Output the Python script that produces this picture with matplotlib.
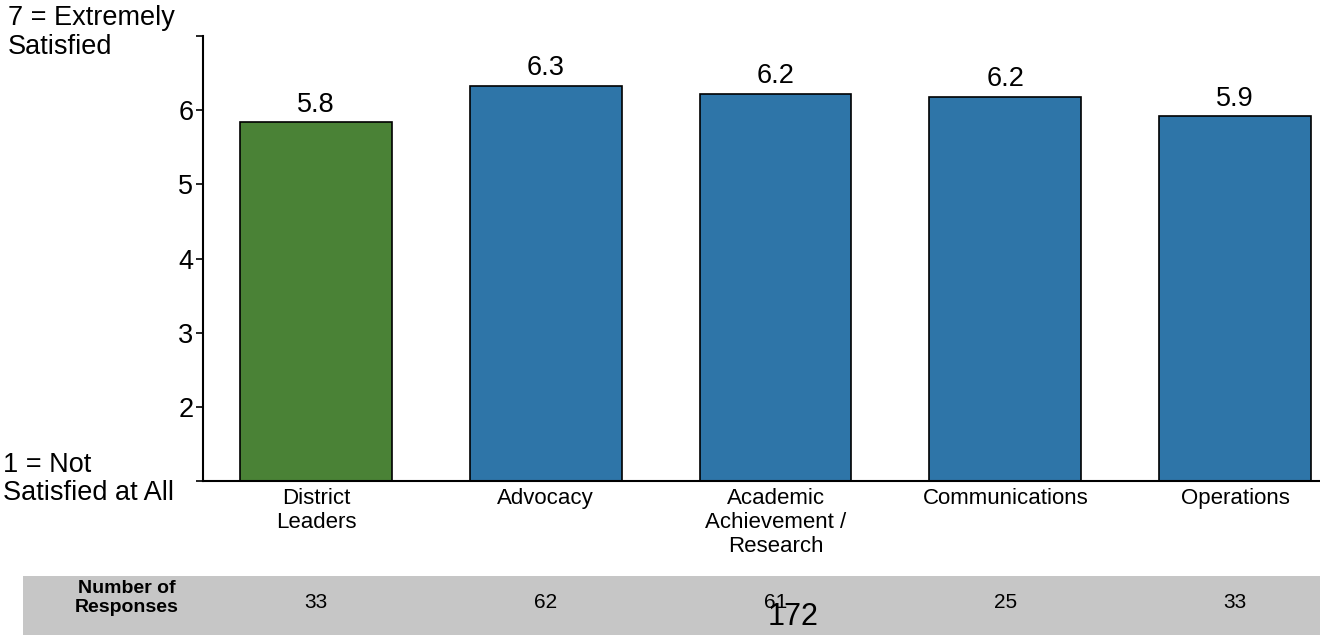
import matplotlib
matplotlib.use("Agg")
import matplotlib.pyplot as plt
from matplotlib.patches import Rectangle
from matplotlib.transforms import blended_transform_factory

plt.rcParams['font.family'] = ['Liberation Sans', 'DejaVu Sans']

categories = ['District\nLeaders', 'Advocacy', 'Academic\nAchievement /\nResearch',
              'Communications', 'Operations']
scores = [5.84, 6.33, 6.22, 6.18, 5.92]
responses = [33, 62, 61, 25, 33]
bar_colors = ['#4a8236', '#2e75a8', '#2e75a8', '#2e75a8', '#2e75a8']
page_number = '172'

fig = plt.figure(figsize=(13.2, 6.35), dpi=100)
ax = fig.add_axes([0.1538, 0.2425, 0.8462, 0.7008])

x = list(range(len(categories)))
ax.bar(x, [s - 1 for s in scores], bottom=1, width=0.66, color=bar_colors,
       edgecolor='black', linewidth=1.2, zorder=2)

for xi, s in zip(x, scores):
    ax.text(xi, s + 0.06, f'{s:.1f}', ha='center', va='bottom', fontsize=19.5)

ax.set_xlim(-0.492, 4.37)
ax.set_ylim(1, 7)
ax.set_yticks([1, 2, 3, 4, 5, 6, 7])
ax.set_yticklabels(['', '2', '3', '4', '5', '6', ''], fontsize=19.5)
ax.set_xticks(x)
ax.set_xticklabels(categories, fontsize=16, va='top', linespacing=1.2)
ax.tick_params(axis='x', length=0, pad=5)
ax.tick_params(axis='y', length=5, width=1.2, pad=2)

for side in ['top', 'right']:
    ax.spines[side].set_visible(False)
ax.spines['left'].set_linewidth(1.5)
ax.spines['bottom'].set_linewidth(1.5)

# scale end labels
fig.text(8 / 1320, 1 - 5 / 635, '7 = Extremely\nSatisfied', ha='left', va='top',
         fontsize=19.5, linespacing=1.15)
fig.text(3 / 1320, 1 - 452 / 635, '1 = Not\nSatisfied at All', ha='left', va='top',
         fontsize=19.5, linespacing=1.1)

# response count band
fig.patches.append(Rectangle((23 / 1320, 0), 1 - 23 / 1320, 59 / 635,
                             transform=fig.transFigure, facecolor='#c6c6c6',
                             edgecolor='none', zorder=-1))
fig.text(127 / 1320, 1 - 598 / 635, 'Number of\nResponses', ha='center', va='center',
         fontsize=14, fontweight='bold', linespacing=1.2)
trans = blended_transform_factory(ax.transData, fig.transFigure)
for xi, n in zip(x, responses):
    ax.text(xi, 1 - 603 / 635, str(n), ha='center', va='center', fontsize=15,
            transform=trans, clip_on=False)

fig.text(793 / 1320, 1 - 617 / 635, page_number, ha='center', va='center', fontsize=22)

fig.savefig('out.png', dpi=100)
